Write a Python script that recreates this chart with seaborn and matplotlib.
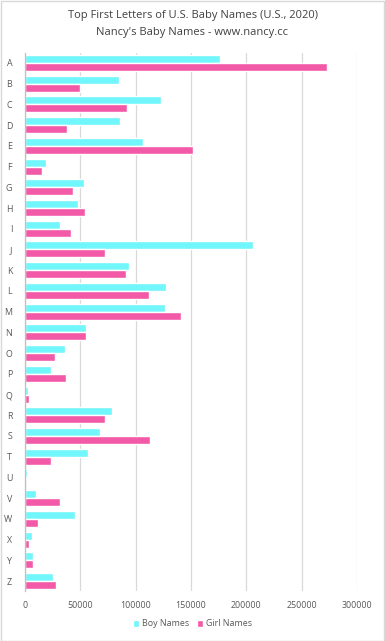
"""Horizontal grouped bars: first letters of US baby names, 2020."""

import pandas as pd
import matplotlib
matplotlib.use("Agg")
import matplotlib.pyplot as plt
from matplotlib.patches import Rectangle
import seaborn as sns

letters = list("ABCDEFGHIJKLMNOPQRSTUVWXYZ")
boy_names = [176100, 85100, 122900, 86000, 106700, 19200, 53500, 48100, 31900,
             205900, 94100, 127400, 126500, 55300, 36400, 23700, 3000, 78800,
             67900, 57100, 2100, 10200, 45400, 6600, 7500, 25500]
girl_names = [272600, 49900, 92300, 38200, 151800, 15600, 43600, 54400, 41800,
              72400, 91400, 112100, 141000, 55300, 27300, 37300, 3900, 72400,
              113000, 23700, 300, 31900, 12000, 3900, 7500, 28300]
series = ["Boy Names", "Girl Names"]
x_ticks = [0, 50000, 100000, 150000, 200000, 250000, 300000]

df = pd.DataFrame({
    "letter": letters * 2,
    "count": boy_names + girl_names,
    "series": [series[0]] * len(letters) + [series[1]] * len(letters),
})

sns.set_style("white")
plt.rcParams["font.family"] = ["Open Sans", "DejaVu Sans"]

W, H = 385, 641
fig = plt.figure(figsize=(W / 100, H / 100), dpi=100)
ax = fig.add_axes([24.7 / W, 1 - 591.4 / H, (357.3 - 24.7) / W, (591.4 - 52.6) / H])

palette = {"Boy Names": "#70f6fb", "Girl Names": "#f25aa8"}
sns.barplot(data=df, y="letter", x="count", hue="series", orient="h",
            palette=palette, width=0.77, saturation=1, ax=ax, legend=True)

ax.set_xlim(0, 300000)
ax.set_xticks(x_ticks)
ax.set_xticklabels([str(v) for v in x_ticks])
ax.set_ylim(len(letters) - 0.5, -0.5)
ax.set_xlabel("")
ax.set_ylabel("")
ax.grid(axis="x", color="#d9d9d9", lw=0.9)
ax.set_axisbelow(True)
for side in ["top", "right", "bottom"]:
    ax.spines[side].set_visible(False)
ax.spines["left"].set_color("#bfbfbf")
ax.spines["left"].set_linewidth(0.9)
ax.tick_params(axis="both", length=0, labelsize=6.4, colors="#595959")
ax.tick_params(axis="y", pad=9)
ax.tick_params(axis="x", pad=7)

handles, labels = ax.get_legend_handles_labels()
ax.get_legend().remove()
fig.legend(handles, labels, loc="center", bbox_to_anchor=(0.5, 1 - 624 / H),
           ncol=2, frameon=False, fontsize=6.4, labelcolor="#595959",
           handlelength=0.7, handleheight=0.7, handletextpad=0.3,
           columnspacing=0.9)

fig.text(0.5, 1 - 15.7 / H, "Top First Letters of U.S. Baby Names (U.S., 2020)",
         ha="center", va="center", fontsize=8, color="#404040")
fig.text(0.5, 1 - 32.7 / H, "Nancy's Baby Names - www.nancy.cc",
         ha="center", va="center", fontsize=8, color="#404040")

fig.patches.append(Rectangle((0.5 / W, 0.5 / H), 1 - 1.5 / W, 1 - 1.5 / H,
                             transform=fig.transFigure, fill=False,
                             edgecolor="#d9d9d9", lw=1))

fig.savefig("out.png", dpi=100)
